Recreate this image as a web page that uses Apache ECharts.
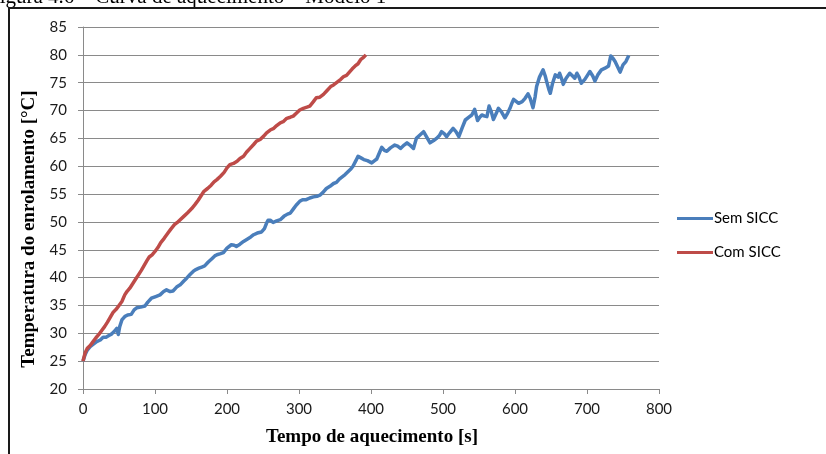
<!DOCTYPE html>
<html>
<head>
<meta charset="utf-8">
<script src="https://cdn.jsdelivr.net/npm/echarts@6/dist/echarts.min.js"></script>
<style>
  html, body { margin: 0; padding: 0; background: #fff; }
  #chart { width: 826px; height: 454px; }
</style>
</head>
<body>
<div id="chart"></div>
<script>
// Heating curve: winding temperature vs heating time, with and without SICC
const xTicks = [0, 100, 200, 300, 400, 500, 600, 700, 800];
const yTicks = [20, 25, 30, 35, 40, 45, 50, 55, 60, 65, 70, 75, 80, 85];
const seriesNames = ['Sem SICC', 'Com SICC'];
const xTitle = 'Tempo de aquecimento [s]';
const yTitle = 'Temperatura do enrolamento [°C]';

const semTime = [0,3,6,10,14,19,24,28,32,36,40,44,47,49,51,54,58,62,67,71,75,80,86,90,95,101,107,112,116,121,125,130,135,140,144,149,153,156,161,165,169,174,179,183,186,191,195,200,206,210,213,218,223,228,233,237,242,248,252,255,257,260,264,269,274,279,284,288,292,296,301,305,310,315,320,325,329,334,338,343,348,352,356,360,364,368,372,375,379,382,386,390,395,401,405,408,412,415,419,422,427,433,437,441,446,450,455,459,463,468,473,477,482,487,491,495,498,502,505,509,514,518,522,527,531,536,540,544,548,551,554,558,561,564,567,570,574,577,581,586,590,593,596,598,602,605,610,614,618,621,625,628,630,634,639,642,644,647,649,652,656,660,662,665,667,671,676,680,683,686,689,692,697,701,704,708,711,715,720,725,730,733,736,739,742,746,750,754,758];
const semTemp = [25.0,26.2,27.0,27.6,28.0,28.5,28.8,29.3,29.3,29.6,29.9,30.4,30.9,29.8,31.2,32.4,33.0,33.3,33.4,34.2,34.6,34.7,34.9,35.6,36.3,36.6,36.9,37.5,37.8,37.5,37.6,38.3,38.7,39.4,39.9,40.6,41.1,41.4,41.7,41.9,42.1,42.8,43.4,43.9,44.1,44.3,44.5,45.3,45.9,45.8,45.6,46.0,46.5,46.9,47.3,47.7,48.0,48.2,48.8,49.8,50.3,50.3,49.9,50.2,50.4,51.0,51.4,51.6,52.3,53.0,53.7,54.0,54.0,54.3,54.5,54.6,54.8,55.4,56.0,56.4,56.9,57.1,57.7,58.1,58.5,59.0,59.5,60.0,61.0,61.8,61.5,61.2,61.0,60.6,61.0,61.3,62.5,63.4,62.8,62.7,63.3,63.8,63.6,63.2,63.8,64.2,63.7,63.2,65.0,65.6,66.2,65.3,64.2,64.6,65.0,65.5,66.2,65.8,65.3,66.0,66.8,66.2,65.3,67.0,68.3,68.8,69.2,70.2,68.2,68.8,69.2,69.0,68.9,70.8,69.8,68.4,69.5,70.4,69.8,68.7,69.6,70.4,71.4,72.0,71.6,71.3,71.6,72.2,73.0,72.2,70.5,72.5,74.3,76.0,77.3,76.2,75.2,73.8,73.1,74.8,76.4,76.0,76.7,75.6,74.7,75.8,76.7,76.2,75.8,76.7,76.0,74.9,75.6,76.4,77.0,76.2,75.3,76.4,77.3,77.6,78.0,79.8,79.4,78.8,78.0,76.9,78.2,78.8,79.9];

const comTime = [0,3,6,10,14,18,22,26,30,34,38,42,46,50,54,58,61,65,69,73,77,81,85,89,92,96,100,104,108,113,118,122,127,131,135,140,145,151,156,160,164,168,173,178,182,186,191,196,200,204,209,214,218,223,227,232,237,241,246,251,255,260,265,269,274,278,283,288,292,297,301,306,311,315,320,324,329,334,339,344,348,353,358,362,366,370,374,378,382,386,390,393];
const comTemp = [25.0,26.5,27.3,27.8,28.5,29.2,29.8,30.5,31.2,32.0,32.9,33.8,34.3,35.0,35.7,36.9,37.5,38.1,38.9,39.7,40.5,41.3,42.2,43.1,43.7,44.1,44.7,45.4,46.3,47.1,48.0,48.7,49.5,49.9,50.4,51.0,51.6,52.4,53.2,53.9,54.7,55.5,56.0,56.6,57.2,57.6,58.2,58.9,59.7,60.3,60.5,60.9,61.4,61.8,62.5,63.2,63.9,64.5,64.8,65.4,66.0,66.5,66.8,67.3,67.8,68.0,68.6,68.8,69.0,69.6,70.1,70.4,70.6,70.8,71.6,72.3,72.4,72.9,73.6,74.3,74.6,75.1,75.6,76.1,76.3,76.9,77.5,78.0,78.4,79.2,79.6,80.0];

const pairs = (xs, ys) => xs.map((x, i) => [x, ys[i]]);

const chart = echarts.init(document.getElementById('chart'), null, { renderer: 'canvas' });
const gridColor = '#8a8a8a';
const titleFont = 'bold 19px "Liberation Serif"';

chart.setOption({
  backgroundColor: '#ffffff',
  animation: false,
  color: ['#4a7ebb', '#be4b48'],
  graphic: [
    // figure caption above the frame (partly cut by the page edge)
    { type: 'text', left: -12, top: -13,
      style: { text: 'Figura 4.6 – Curva de aquecimento – Modelo 1', font: '21px "Liberation Serif"', fill: '#000' } },
    { type: 'line', shape: { x1: 8, y1: 8, x2: 826, y2: 8 }, style: { stroke: '#1a1a1a', lineWidth: 2 } },
    { type: 'line', shape: { x1: 9, y1: 8, x2: 9, y2: 454 }, style: { stroke: '#1a1a1a', lineWidth: 2 } },
    // axis titles
    { type: 'text', x: 372, y: 437,
      style: { text: xTitle, font: titleFont, fill: '#000', align: 'center', verticalAlign: 'middle' } },
    { type: 'text', x: 29, y: 229, rotation: Math.PI / 2,
      style: { text: yTitle, font: titleFont, fill: '#000', align: 'center', verticalAlign: 'middle' } }
  ],
  legend: {
    orient: 'vertical',
    left: 672, top: 206,
    itemWidth: 36, itemHeight: 3, itemGap: 19,
    icon: 'rect',
    data: seriesNames,
    textStyle: { fontFamily: 'Lato', fontSize: 15, color: '#000', padding: [0, 0, 0, -4] }
  },
  grid: { left: 83, right: 167, top: 27, bottom: 65 },
  xAxis: {
    type: 'value',
    min: xTicks[0], max: xTicks[xTicks.length - 1], interval: 100,
    axisLine: { show: true, lineStyle: { color: gridColor, width: 1 } },
    axisTick: { show: true, length: 5, lineStyle: { color: gridColor } },
    axisLabel: { margin: 13, fontFamily: 'Lato', fontSize: 15, color: '#1a1a1a' },
    splitLine: { show: false }
  },
  yAxis: {
    type: 'value',
    min: yTicks[0], max: yTicks[yTicks.length - 1], interval: 5,
    axisLine: { show: true, lineStyle: { color: gridColor, width: 1 } },
    axisTick: { show: true, length: 5, lineStyle: { color: gridColor } },
    axisLabel: { margin: 16, fontFamily: 'Lato', fontSize: 15, color: '#1a1a1a' },
    splitLine: { show: true, lineStyle: { color: gridColor, width: 1 } }
  },
  series: [
    { name: seriesNames[0], type: 'line', data: pairs(semTime, semTemp),
      showSymbol: false, symbol: 'none', lineStyle: { width: 3.5, join: 'round' } },
    { name: seriesNames[1], type: 'line', data: pairs(comTime, comTemp),
      showSymbol: false, symbol: 'none', lineStyle: { width: 3.5, join: 'round' } }
  ]
});
</script>
</body>
</html>
